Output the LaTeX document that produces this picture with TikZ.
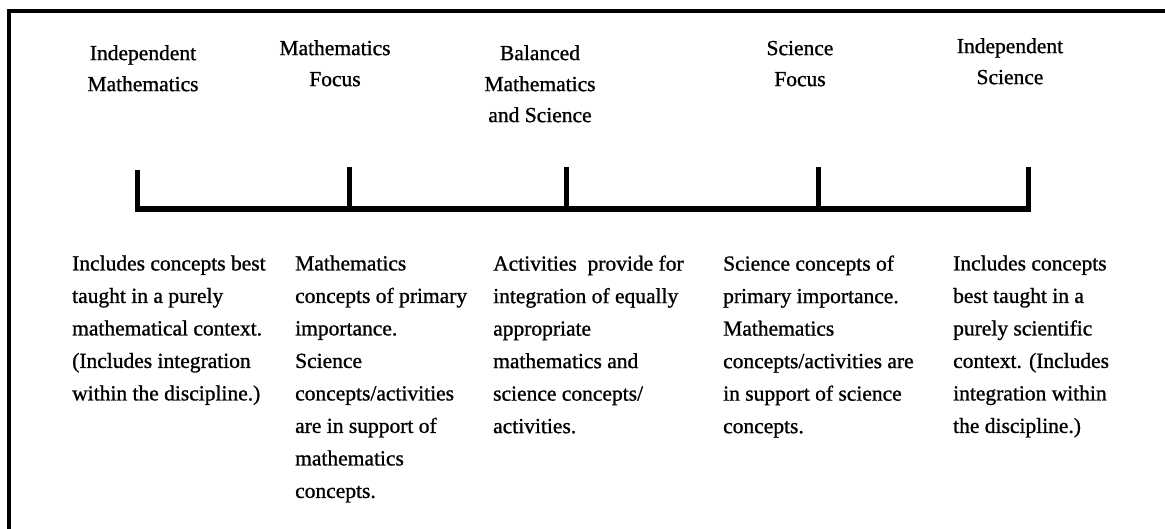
\documentclass[tikz,border=0pt]{standalone}
\usepackage{fontspec}
\setmainfont{Liberation Serif}[FakeBold=1]
\begin{document}
\begin{tikzpicture}[x=1pt,y=-1pt,
  frame/.style={line width=4pt, line join=miter},
  axis/.style={line width=6pt},
  tickline/.style={line width=5pt},
  txt/.style={inner sep=0pt, font=\fontsize{21.5}{32.5}\selectfont},
  head/.style={inner sep=0pt, font=\fontsize{21.5}{31}\selectfont, anchor=north, align=center},
  desc/.style={txt, anchor=north west, align=left}]
\useasboundingbox[fill=white] (0,0) rectangle (1165,529);

% open frame: left side and top
\draw[frame] (9,529) -- (9,11) -- (1165,11);

% points on the continuum and the tops of their ticks
\coordinate (t1) at (137,209);
\coordinate (t2) at (349,209);
\coordinate (t3) at (566,209);
\coordinate (t4) at (818,209);
\coordinate (t5) at (1028,209);
\coordinate (k1) at (137,170);
\coordinate (k2) at (349,167);
\coordinate (k3) at (566,167);
\coordinate (k4) at (818,167);
\coordinate (k5) at (1028,167);

\draw[axis] ([xshift=-2.5pt]t1) -- ([xshift=2.5pt]t5);
\foreach \i in {1,...,5} \draw[tickline] (k\i) -- ([yshift=3pt]t\i);

% category headings
\node[head] (h1) at (143,45) {\vphantom{Ihd}Independent\\Mathematics};
\node[head] (h2) at (335,40) {\vphantom{Ihd}Mathematics\\Focus};
\node[head] (h3) at (540,45) {\vphantom{Ihd}Balanced\\Mathematics\\and Science};
\node[head] (h4) at (800,40) {\vphantom{Ihd}Science\\Focus};
\node[head] (h5) at (1010,38) {\vphantom{Ihd}Independent\\Science};

% descriptions
\node[desc] (d1) at (72,255.3) {\vphantom{Ihd}Includes concepts best\\taught in a purely\\mathematical context.\\(Includes integration\\within the discipline.)};
\node[desc] (d2) at (295,255.3) {\vphantom{Ihd}Mathematics\\concepts of primary\\importance.\\Science\\concepts/activities\\are in support of\\mathematics\\concepts.};
\node[desc] (d3) at (493,255.3) {\vphantom{Ihd}Activities\ \ provide for\\integration of equally\\appropriate\\mathematics and\\science concepts/\\activities.};
\node[desc] (d4) at (723,255.3) {\vphantom{Ihd}Science concepts of\\primary importance.\\Mathematics\\concepts/activities are\\in support of science\\concepts.};
\node[desc] (d5) at (953,255.3) {\vphantom{Ihd}Includes concepts\\best taught in a\\purely scientific\\context. (Includes\\integration within\\the discipline.)};
\end{tikzpicture}
\end{document}
